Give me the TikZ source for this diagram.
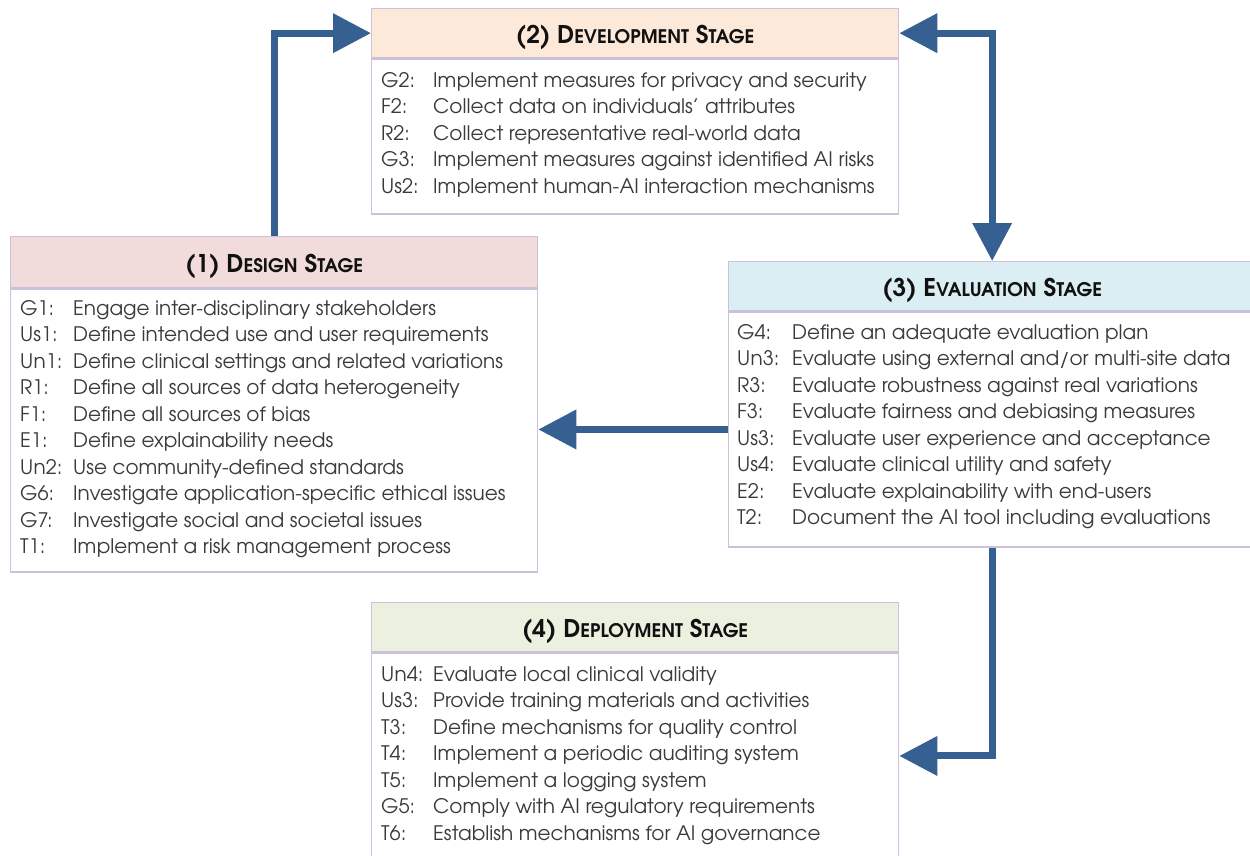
\documentclass[tikz,border=0pt]{standalone}
\usepackage{fontspec}
\setmainfont{texgyreadventor}[Extension=.otf, UprightFont=*-regular, BoldFont=*-bold, ItalicFont=*-italic, BoldItalicFont=*-bolditalic]
\usetikzlibrary{arrows.meta,calc}
\definecolor{arrowc}{HTML}{376092}
\definecolor{bordc}{HTML}{CCC1DA}
\definecolor{itemc}{HTML}{3A3A3A}
\definecolor{titlec}{HTML}{111111}
\definecolor{fdesign}{HTML}{F2DCDB}
\definecolor{fdev}{HTML}{FDE9D9}
\definecolor{feval}{HTML}{DAEEF3}
\definecolor{fdep}{HTML}{EBF1DE}
\newcommand\hsc[2]{#1{\fontsize{18.7}{18.7}\selectfont #2}}
\tikzset{
  hdr/.style={draw=bordc, line width=1.3pt, minimum width=527pt, minimum height=49pt, inner sep=0pt, anchor=north west, text height=23pt, text depth=1.4pt, font=\bfseries\fontsize{24.4}{24.4}\selectfont, text=titlec},
  bodybox/.style={draw=bordc, line width=1.3pt, fill=white, minimum width=527pt, anchor=north west, inner sep=0pt},
  items/.style={anchor=north west, inner sep=0pt, text=itemc, font=\fontsize{20}{26.5}\selectfont},
  flow/.style={draw=arrowc, line width=7pt, line join=miter, -{Triangle[length=38pt,width=38pt]}},
  flowboth/.style={draw=arrowc, line width=7pt, line join=miter, {Triangle[length=38pt,width=38pt]}-{Triangle[length=38pt,width=38pt]}},
}
\begin{document}
\begin{tikzpicture}[x=1pt,y=-1pt]
\useasboundingbox (0,0) rectangle (1250,855);
\clip (0,0) rectangle (1250,855);
\fill[white] (0,0) rectangle (1250,855);

% (1) Design stage
\node[hdr, fill=fdesign, minimum height=51pt] (h1) at (10,236) {(1) \hsc{D}{ESIGN} \hsc{S}{TAGE}};
\node[bodybox, minimum height=283pt] (b1) at (h1.south west) {};
\node[items] (t1) at ($(b1.north west)+(10,8)$) {\begin{tabular}{@{}p{53pt}@{}l@{}}
G1: & Engage inter-disciplinary stakeholders\\
Us1: & Define intended use and user requirements\\
Un1: & Define clinical settings and related variations\\
R1: & Define all sources of data heterogeneity\\
F1: & Define all sources of bias\\
E1: & Define explainability needs\\
Un2: & Use community-defined standards\\
G6: & Investigate application-specific ethical issues\\
G7: & Investigate social and societal issues\\
T1: & Implement a risk management process
\end{tabular}};

% (2) Development stage
\node[hdr, fill=fdev] (h2) at (371,8) {(2) \hsc{D}{EVELOPMENT} \hsc{S}{TAGE}};
\node[bodybox, minimum height=155pt] (b2) at (h2.south west) {};
\node[items] (t2) at ($(b2.north west)+(10,10)$) {\begin{tabular}{@{}p{52pt}@{}l@{}}
G2: & Implement measures for privacy and security\\
F2: & Collect data on individuals' attributes\\
R2: & Collect representative real-world data\\
G3: & Implement measures against identified AI risks\\
Us2: & Implement human-AI interaction mechanisms
\end{tabular}};

% (3) Evaluation stage
\node[hdr, fill=feval] (h3) at (728,261) {(3) \hsc{E}{VALUATION} \hsc{S}{TAGE}};
\node[bodybox, minimum height=235pt] (b3) at (h3.south west) {};
\node[items] (t3) at ($(b3.north west)+(9,9)$) {\begin{tabular}{@{}p{55pt}@{}l@{}}
G4: & Define an adequate evaluation plan\\
Un3: & Evaluate using external and/or multi-site data\\
R3: & Evaluate robustness against real variations\\
F3: & Evaluate fairness and debiasing measures\\
Us3: & Evaluate user experience and acceptance\\
Us4: & Evaluate clinical utility and safety\\
E2: & Evaluate explainability with end-users\\
T2: & Document the AI tool including evaluations
\end{tabular}};

% (4) Deployment stage
\node[hdr, fill=fdep] (h4) at (371,602) {(4) \hsc{D}{EPLOYMENT} \hsc{S}{TAGE}};
\node[bodybox, minimum height=206pt] (b4) at (h4.south west) {};
\node[items] (t4) at ($(b4.north west)+(10,10)$) {\begin{tabular}{@{}p{52pt}@{}l@{}}
Un4: & Evaluate local clinical validity\\
Us3: & Provide training materials and activities\\
T3: & Define mechanisms for quality control\\
T4: & Implement a periodic auditing system\\
T5: & Implement a logging system\\
G5: & Comply with AI regulatory requirements\\
T6: & Establish mechanisms for AI governance
\end{tabular}};

% connectors
\draw[flow] (h1.north) |- (h2.west);
\draw[flowboth] (h2.east) -| (h3.north);
\draw[flow] (b3.west) -- (b3.west -| b1.east);
\draw[flow] (b3.south) |- (b4.east);
\end{tikzpicture}
\end{document}
